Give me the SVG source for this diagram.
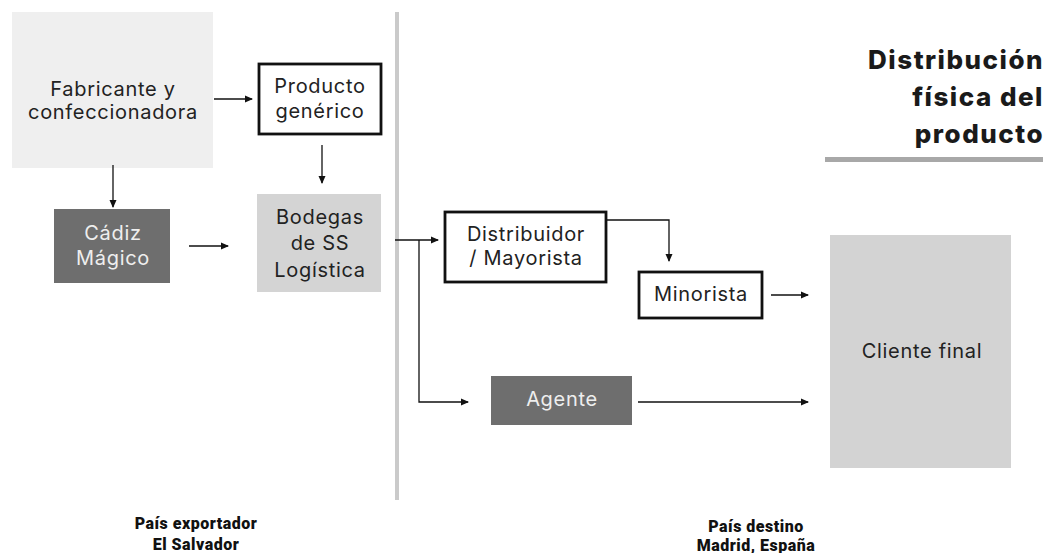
<svg xmlns="http://www.w3.org/2000/svg" width="1047" height="553" viewBox="0 0 1047 553">
<style>
.t{font-family:Inter,"Noto Sans",sans-serif;font-size:20px;letter-spacing:0.7px;fill:#222;text-anchor:middle}
.tw{fill:#eeeeee}
.ob{fill:#fff;stroke:#111;stroke-width:2.8}
.c{fill:none;stroke:#111;stroke-width:1.3}
.ttl{font-family:Inter,"Noto Sans",sans-serif;font-size:26px;font-weight:800;letter-spacing:1.5px;fill:#1a1a1a;text-anchor:end}
.lb{font-family:Roboto,"Liberation Sans",sans-serif;font-size:16px;font-weight:900;letter-spacing:0.5px;fill:#111;text-anchor:middle}
</style>
<defs>
<marker id="ah" markerWidth="8" markerHeight="8" refX="7" refY="4" orient="auto" markerUnits="userSpaceOnUse">
<path d="M0,0.5 L8,4 L0,7.5 Z" fill="#111"/>
</marker>
</defs>
<rect width="1047" height="553" fill="#fff"/>
<rect x="395" y="12" width="4" height="488" fill="#cacaca"/>
<g id="title">
<text class="ttl" x="1044" y="69">Distribución</text>
<text class="ttl" x="1044" y="106">física del</text>
<text class="ttl" x="1044" y="143">producto</text>
<rect x="825" y="157" width="218" height="5" fill="#a8a8a8"/>
</g>
<g id="fabricante">
<rect x="12" y="12" width="201" height="156" fill="#efefef"/>
<text class="t" x="113" y="96">Fabricante y</text>
<text class="t" x="113" y="119">confeccionadora</text>
</g>
<g id="producto">
<rect class="ob" x="259" y="64" width="122" height="70"/>
<text class="t" x="320" y="93">Producto</text>
<text class="t" x="320" y="118">genérico</text>
</g>
<g id="cadiz">
<rect x="54" y="209" width="116" height="74" fill="#6e6e6e"/>
<text class="t tw" x="113" y="240">Cádiz</text>
<text class="t tw" x="113" y="265">Mágico</text>
</g>
<g id="bodegas">
<rect x="257" y="194" width="124" height="98" fill="#d4d4d4"/>
<text class="t" x="320" y="224">Bodegas</text>
<text class="t" x="320" y="250">de SS</text>
<text class="t" x="320" y="277">Logística</text>
</g>
<g id="distribuidor">
<rect class="ob" x="445" y="212" width="161" height="70"/>
<text class="t" x="526" y="241">Distribuidor</text>
<text class="t" x="526" y="265">/ Mayorista</text>
</g>
<g id="minorista">
<rect class="ob" x="639" y="272" width="123" height="46"/>
<text class="t" x="701" y="301">Minorista</text>
</g>
<g id="agente">
<rect x="491" y="376" width="141" height="49" fill="#6e6e6e"/>
<text class="t tw" x="562" y="406">Agente</text>
</g>
<g id="cliente">
<rect x="830" y="235" width="181" height="233" fill="#d3d3d3"/>
<text class="t" x="922" y="358">Cliente final</text>
</g>
<g id="connectors">
<path class="c" d="M214,99 H252" marker-end="url(#ah)"/>
<path class="c" d="M322,145 V183" marker-end="url(#ah)"/>
<path class="c" d="M113,165 V207" marker-end="url(#ah)"/>
<path class="c" d="M189,246 H228" marker-end="url(#ah)"/>
<path class="c" d="M395,240 H438" marker-end="url(#ah)"/>
<path class="c" d="M419,240 V402 H468" marker-end="url(#ah)"/>
<path class="c" d="M606,220 H669 V261" marker-end="url(#ah)"/>
<path class="c" d="M771,295 H808" marker-end="url(#ah)"/>
<path class="c" d="M638,402 H808" marker-end="url(#ah)"/>
</g>
<g id="labels">
<text class="lb" x="196" y="529">País exportador</text>
<text class="lb" x="196" y="550">El Salvador</text>
<text class="lb" x="756" y="532">País destino</text>
<text class="lb" x="756" y="551">Madrid, España</text>
</g>
</svg>
